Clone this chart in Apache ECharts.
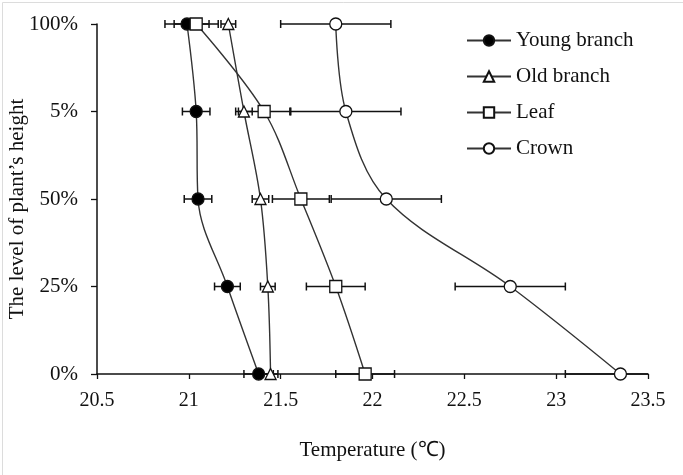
<!DOCTYPE html>
<html>
<head>
<meta charset="utf-8">
<style>
html,body{margin:0;padding:0;background:#fff;}
#c{width:683px;height:475px;}
</style>
<script src="https://cdn.jsdelivr.net/npm/echarts@6/dist/echarts.min.js"></script>
</head>
<body>
<div id="c"></div>
<script>
// Categories (bottom to top)
const levels = ['0%', '25%', '50%', '5%', '100%'];
// Temperature means (°C) per level
const young = [21.38, 21.21, 21.05, 21.04, 20.99];
const old   = [21.445, 21.43, 21.39, 21.30, 21.215];
const leaf  = [21.96, 21.80, 21.61, 21.41, 21.04];
const crown = [23.35, 22.75, 22.075, 21.855, 21.80];
// Error (±)
const youngErr = [0.08, 0.07, 0.075, 0.075, 0.12];
const oldErr   = [0.04, 0.04, 0.045, 0.045, 0.04];
const leafErr  = [0.16, 0.16, 0.155, 0.14, 0.12];
const crownErr = [0.30, 0.30, 0.30, 0.30, 0.30];
// X axis range
const xMin = 20.5, xMax = 23.5, xStep = 0.5;
const seriesNames = ['Young branch', 'Old branch', 'Leaf', 'Crown'];

const FONT = 'Liberation Serif';
const TXT = '#111';
const chart = echarts.init(document.getElementById('c'), null, {renderer: 'canvas'});

function errSeries(vals, errs) {
  return {
    type: 'custom',
    silent: true,
    z: 1,
    data: vals.map((v, i) => [v, i, errs[i]]),
    renderItem: function (params, api) {
      const v = api.value(0), idx = api.value(1), e = api.value(2);
      const lo = Math.max(v - e, xMin), hi = Math.min(v + e, xMax);
      const p1 = api.coord([lo, idx]);
      const p2 = api.coord([hi, idx]);
      const h = 4;
      const st = {stroke: '#111', lineWidth: 1.5};
      const kids = [{type: 'line', shape: {x1: p1[0], y1: p1[1], x2: p2[0], y2: p2[1]}, style: st}];
      if (v - e >= xMin) kids.push({type: 'line', shape: {x1: p1[0], y1: p1[1] - h, x2: p1[0], y2: p1[1] + h}, style: st});
      if (v + e <= xMax) kids.push({type: 'line', shape: {x1: p2[0], y1: p2[1] - h, x2: p2[0], y2: p2[1] + h}, style: st});
      return {type: 'group', children: kids};
    }
  };
}

function lineSeries(name, vals, symbol, size, fill) {
  return {
    name: name,
    type: 'line',
    z: 3,
    smooth: 0.35,
    data: vals.map((v, i) => [v, i]),
    symbol: symbol,
    symbolSize: size,
    showAllSymbol: true,
    lineStyle: {color: '#333', width: 1.4},
    itemStyle: {color: fill, borderColor: '#111', borderWidth: 1.3, opacity: 1},
    emphasis: {disabled: true}
  };
}

chart.setOption({
  animation: false,
  backgroundColor: '#fff',
  graphic: [{
    type: 'rect', left: 0, top: 0, z: -1,
    shape: {x: 0.5, y: 0.5, width: 682, height: 474},
    style: {fill: 'none', stroke: '#dcdcdc', lineWidth: 1}
  }],
  grid: {left: 97, right: 35, top: 24, bottom: 101, containLabel: false, outerBoundsMode: 'none'},
  legend: {
    orient: 'vertical',
    left: 466, top: 30,
    padding: 0,
    itemWidth: 44, itemHeight: 13, itemGap: 15,
    data: seriesNames,
    textStyle: {fontFamily: FONT, fontSize: 21, color: TXT},
    selectedMode: false
  },
  xAxis: {
    type: 'value',
    min: xMin, max: xMax, interval: xStep,
    name: 'Temperature (\u2103)',
    nameLocation: 'middle', nameGap: 66, nameMoveOverlap: false,
    nameTextStyle: {fontFamily: FONT, fontSize: 21, color: TXT},
    axisLine: {show: true, onZero: false, lineStyle: {color: '#111', width: 1.5}},
    axisTick: {show: true, length: 5, lineStyle: {color: '#111', width: 1.3}},
    axisLabel: {fontFamily: FONT, fontSize: 20, color: TXT, margin: 17},
    splitLine: {show: false}
  },
  yAxis: {
    type: 'category',
    data: levels,
    boundaryGap: false,
    name: 'The level of plant\u2019s height',
    nameLocation: 'middle', nameGap: 69, nameMoveOverlap: false,
    nameTextStyle: {fontFamily: FONT, fontSize: 21, color: TXT, padding: [0, 20, 0, 0]},
    axisLine: {show: true, lineStyle: {color: '#111', width: 1.5}},
    axisTick: {show: true, length: 6, alignWithLabel: true, lineStyle: {color: '#111', width: 1.3}},
    axisLabel: {fontFamily: FONT, fontSize: 21, color: TXT, margin: 19},
    splitLine: {show: false}
  },
  series: [
    errSeries(young, youngErr),
    errSeries(old, oldErr),
    errSeries(leaf, leafErr),
    errSeries(crown, crownErr),
    lineSeries(seriesNames[0], young, 'circle', 12, '#000'),
    lineSeries(seriesNames[1], old, 'triangle', 11, '#fff'),
    lineSeries(seriesNames[2], leaf, 'rect', 12, '#fff'),
    lineSeries(seriesNames[3], crown, 'circle', 12, '#fff')
  ]
});
</script>
</body>
</html>
